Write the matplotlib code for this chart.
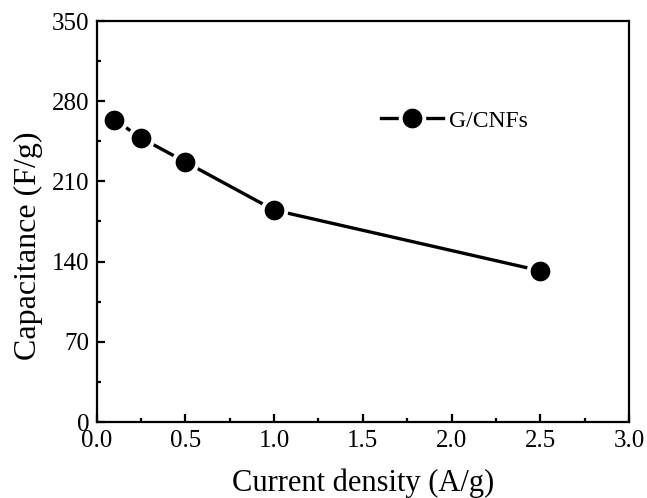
import matplotlib
matplotlib.use("Agg")
import matplotlib.pyplot as plt
from matplotlib.ticker import MultipleLocator

current = [0.1, 0.25, 0.5, 1.0, 2.5]
capacitance = [264, 248, 227, 185, 132]

plt.rcParams['font.family'] = ['Liberation Serif', 'DejaVu Serif']

fig = plt.figure(figsize=(6.47, 4.98), dpi=100)
ax = fig.add_axes([96.5 / 647, 76 / 498, 532.5 / 647, 401 / 498])

ax.plot(current, capacitance, color='black', lw=2.4, marker='o', ms=17,
        mfc='black', mec='white', mew=2.8, label='G/CNFs')

ax.set_xlim(0, 3.0)
ax.set_ylim(0, 350)
ax.xaxis.set_major_locator(MultipleLocator(0.5))
ax.xaxis.set_minor_locator(MultipleLocator(0.25))
ax.yaxis.set_major_locator(MultipleLocator(70))
ax.yaxis.set_minor_locator(MultipleLocator(35))
ax.tick_params(which='both', direction='in', top=False, right=False, labelsize=18, width=1.6)
ax.tick_params(which='major', length=6)
ax.tick_params(which='minor', length=3)
ax.tick_params(axis='x', pad=6)
ax.tick_params(axis='y', pad=5)
for s in ax.spines.values():
    s.set_linewidth(1.6)

ax.set_xlabel('Current density (A/g)', fontsize=22)
ax.xaxis.set_label_coords(0.5, -0.117)
ax.set_ylabel('Capacitance (F/g)', fontsize=23)
ax.yaxis.set_label_coords(-0.101, 0.44)

ax.legend(loc='center left', bbox_to_anchor=(0.535, 0.751), frameon=False, fontsize=17,
          handlelength=2.6, handletextpad=0.25, borderpad=0, borderaxespad=0)

fig.savefig('out.png', dpi=100)
